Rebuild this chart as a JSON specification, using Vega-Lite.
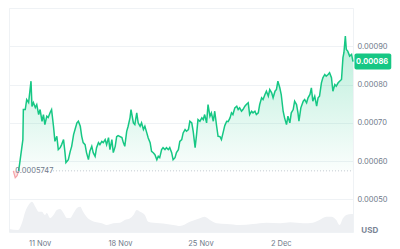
{
  "$schema": "https://vega.github.io/schema/vega-lite/v6.json",
  "width": 344,
  "height": 224,
  "autosize": {"type": "none"},
  "padding": {"left": 9, "top": 8, "right": 47, "bottom": 17},
  "background": "white",
  "config": {
    "view": {"stroke": "#eff2f5"},
    "font": "Inter",
    "text": {"font": "Inter"}
  },
  "datasets": {
    "start": [
      {"t": "2024-11-08T17:00", "p": 0.0005747},
      {"t": "2024-11-08T21:00", "p": 0.0005568},
      {"t": "2024-11-09T01:00", "p": 0.000562},
      {"t": "2024-11-09T04:00", "p": 0.0005747}
    ],
    "price": [
      {"t": "2024-11-09T04:00", "p": 0.0005747},
      {"t": "2024-11-09T06:00", "p": 0.0005908},
      {"t": "2024-11-09T13:00", "p": 0.0006563},
      {"t": "2024-11-09T14:00", "p": 0.0007348},
      {"t": "2024-11-09T18:00", "p": 0.0007348},
      {"t": "2024-11-09T21:00", "p": 0.000761},
      {"t": "2024-11-10T01:00", "p": 0.0007531},
      {"t": "2024-11-10T06:00", "p": 0.0008089},
      {"t": "2024-11-10T08:00", "p": 0.0007427},
      {"t": "2024-11-10T11:00", "p": 0.0007531},
      {"t": "2024-11-10T15:00", "p": 0.00074},
      {"t": "2024-11-10T18:00", "p": 0.0007479},
      {"t": "2024-11-10T22:00", "p": 0.0007217},
      {"t": "2024-11-11T01:00", "p": 0.0007348},
      {"t": "2024-11-11T05:00", "p": 0.0007042},
      {"t": "2024-11-11T08:00", "p": 0.0007217},
      {"t": "2024-11-11T11:00", "p": 0.0006955},
      {"t": "2024-11-11T15:00", "p": 0.0007173},
      {"t": "2024-11-11T18:00", "p": 0.0007139},
      {"t": "2024-11-11T22:00", "p": 0.000727},
      {"t": "2024-11-12T01:00", "p": 0.0007348},
      {"t": "2024-11-12T05:00", "p": 0.0006911},
      {"t": "2024-11-12T08:00", "p": 0.0006518},
      {"t": "2024-11-12T12:00", "p": 0.0006649},
      {"t": "2024-11-12T15:00", "p": 0.0006301},
      {"t": "2024-11-12T19:00", "p": 0.0006353},
      {"t": "2024-11-12T22:00", "p": 0.0006432},
      {"t": "2024-11-13T02:00", "p": 0.0006563},
      {"t": "2024-11-13T05:00", "p": 0.0006223},
      {"t": "2024-11-13T07:00", "p": 0.0005961},
      {"t": "2024-11-13T12:00", "p": 0.0006039},
      {"t": "2024-11-13T16:00", "p": 0.0006257},
      {"t": "2024-11-13T19:00", "p": 0.0006387},
      {"t": "2024-11-13T23:00", "p": 0.0006694},
      {"t": "2024-11-14T02:00", "p": 0.0006825},
      {"t": "2024-11-14T06:00", "p": 0.0007},
      {"t": "2024-11-14T09:00", "p": 0.0007042},
      {"t": "2024-11-14T13:00", "p": 0.0006911},
      {"t": "2024-11-14T16:00", "p": 0.0006649},
      {"t": "2024-11-14T19:00", "p": 0.0006484},
      {"t": "2024-11-14T23:00", "p": 0.0006432},
      {"t": "2024-11-15T02:00", "p": 0.0006223},
      {"t": "2024-11-15T06:00", "p": 0.0006039},
      {"t": "2024-11-15T09:00", "p": 0.0006257},
      {"t": "2024-11-15T13:00", "p": 0.0006387},
      {"t": "2024-11-15T16:00", "p": 0.0006223},
      {"t": "2024-11-15T20:00", "p": 0.0006126},
      {"t": "2024-11-15T23:00", "p": 0.0006353},
      {"t": "2024-11-16T03:00", "p": 0.0006484},
      {"t": "2024-11-16T06:00", "p": 0.0006432},
      {"t": "2024-11-16T10:00", "p": 0.0006518},
      {"t": "2024-11-16T13:00", "p": 0.0006484},
      {"t": "2024-11-16T17:00", "p": 0.0006563},
      {"t": "2024-11-16T20:00", "p": 0.0006432},
      {"t": "2024-11-17T00:00", "p": 0.0006615},
      {"t": "2024-11-17T03:00", "p": 0.0006301},
      {"t": "2024-11-17T07:00", "p": 0.0006563},
      {"t": "2024-11-17T10:00", "p": 0.0006223},
      {"t": "2024-11-17T14:00", "p": 0.0006387},
      {"t": "2024-11-17T17:00", "p": 0.0006641},
      {"t": "2024-11-17T20:00", "p": 0.0006668},
      {"t": "2024-11-18T04:00", "p": 0.0006615},
      {"t": "2024-11-18T07:00", "p": 0.0006484},
      {"t": "2024-11-18T10:00", "p": 0.0006387},
      {"t": "2024-11-18T14:00", "p": 0.000678},
      {"t": "2024-11-18T17:00", "p": 0.0006911},
      {"t": "2024-11-18T21:00", "p": 0.0007139},
      {"t": "2024-11-18T23:00", "p": 0.0007348},
      {"t": "2024-11-19T04:00", "p": 0.0007},
      {"t": "2024-11-19T07:00", "p": 0.0006955},
      {"t": "2024-11-19T11:00", "p": 0.0007262},
      {"t": "2024-11-19T14:00", "p": 0.0007},
      {"t": "2024-11-19T18:00", "p": 0.0006911},
      {"t": "2024-11-19T21:00", "p": 0.0007},
      {"t": "2024-11-20T01:00", "p": 0.0006825},
      {"t": "2024-11-20T04:00", "p": 0.0006911},
      {"t": "2024-11-20T08:00", "p": 0.0006738},
      {"t": "2024-11-20T11:00", "p": 0.0006607},
      {"t": "2024-11-20T15:00", "p": 0.0006484},
      {"t": "2024-11-20T18:00", "p": 0.0006257},
      {"t": "2024-11-20T22:00", "p": 0.0006215},
      {"t": "2024-11-21T01:00", "p": 0.000617},
      {"t": "2024-11-21T05:00", "p": 0.0006039},
      {"t": "2024-11-21T08:00", "p": 0.0006126},
      {"t": "2024-11-21T11:00", "p": 0.0006092},
      {"t": "2024-11-21T15:00", "p": 0.0006301},
      {"t": "2024-11-21T18:00", "p": 0.0006353},
      {"t": "2024-11-21T22:00", "p": 0.0006301},
      {"t": "2024-11-22T01:00", "p": 0.0006353},
      {"t": "2024-11-22T05:00", "p": 0.0006301},
      {"t": "2024-11-22T08:00", "p": 0.0006353},
      {"t": "2024-11-22T12:00", "p": 0.0006223},
      {"t": "2024-11-22T15:00", "p": 0.0006039},
      {"t": "2024-11-22T19:00", "p": 0.0006092},
      {"t": "2024-11-22T22:00", "p": 0.0006223},
      {"t": "2024-11-23T02:00", "p": 0.0006301},
      {"t": "2024-11-23T05:00", "p": 0.0006518},
      {"t": "2024-11-23T09:00", "p": 0.0006563},
      {"t": "2024-11-23T12:00", "p": 0.0006738},
      {"t": "2024-11-23T16:00", "p": 0.0006825},
      {"t": "2024-11-23T19:00", "p": 0.000678},
      {"t": "2024-11-23T23:00", "p": 0.0006825},
      {"t": "2024-11-24T02:00", "p": 0.0007042},
      {"t": "2024-11-24T06:00", "p": 0.0007},
      {"t": "2024-11-24T09:00", "p": 0.000678},
      {"t": "2024-11-24T13:00", "p": 0.0006353},
      {"t": "2024-11-24T16:00", "p": 0.0006694},
      {"t": "2024-11-24T19:00", "p": 0.0007086},
      {"t": "2024-11-24T23:00", "p": 0.0007042},
      {"t": "2024-11-25T03:00", "p": 0.0007131},
      {"t": "2024-11-25T06:00", "p": 0.0007086},
      {"t": "2024-11-25T09:00", "p": 0.0007217},
      {"t": "2024-11-25T13:00", "p": 0.0007},
      {"t": "2024-11-25T16:00", "p": 0.0007479},
      {"t": "2024-11-25T20:00", "p": 0.0007173},
      {"t": "2024-11-25T23:00", "p": 0.0007262},
      {"t": "2024-11-26T03:00", "p": 0.0007042},
      {"t": "2024-11-26T06:00", "p": 0.0007304},
      {"t": "2024-11-26T10:00", "p": 0.0006911},
      {"t": "2024-11-26T13:00", "p": 0.0006649},
      {"t": "2024-11-26T17:00", "p": 0.0006641},
      {"t": "2024-11-26T20:00", "p": 0.0006563},
      {"t": "2024-11-27T00:00", "p": 0.0006772},
      {"t": "2024-11-27T03:00", "p": 0.0006929},
      {"t": "2024-11-27T07:00", "p": 0.0007042},
      {"t": "2024-11-27T10:00", "p": 0.0007034},
      {"t": "2024-11-27T14:00", "p": 0.0007131},
      {"t": "2024-11-27T17:00", "p": 0.0007262},
      {"t": "2024-11-27T20:00", "p": 0.0007217},
      {"t": "2024-11-28T00:00", "p": 0.0007393},
      {"t": "2024-11-28T04:00", "p": 0.0007435},
      {"t": "2024-11-28T07:00", "p": 0.0007348},
      {"t": "2024-11-28T10:00", "p": 0.0007393},
      {"t": "2024-11-28T14:00", "p": 0.0007304},
      {"t": "2024-11-28T17:00", "p": 0.0007348},
      {"t": "2024-11-28T21:00", "p": 0.0007435},
      {"t": "2024-11-29T00:00", "p": 0.0007479},
      {"t": "2024-11-29T04:00", "p": 0.0007524},
      {"t": "2024-11-29T07:00", "p": 0.0007217},
      {"t": "2024-11-29T11:00", "p": 0.0007304},
      {"t": "2024-11-29T14:00", "p": 0.0007262},
      {"t": "2024-11-29T18:00", "p": 0.0007304},
      {"t": "2024-11-29T21:00", "p": 0.0007217},
      {"t": "2024-11-30T01:00", "p": 0.0007262},
      {"t": "2024-11-30T04:00", "p": 0.0007479},
      {"t": "2024-11-30T08:00", "p": 0.0007654},
      {"t": "2024-11-30T11:00", "p": 0.000761},
      {"t": "2024-11-30T15:00", "p": 0.0007741},
      {"t": "2024-11-30T18:00", "p": 0.0007827},
      {"t": "2024-11-30T22:00", "p": 0.0007696},
      {"t": "2024-12-01T01:00", "p": 0.0007872},
      {"t": "2024-12-01T05:00", "p": 0.0007785},
      {"t": "2024-12-01T08:00", "p": 0.0007654},
      {"t": "2024-12-01T12:00", "p": 0.0007827},
      {"t": "2024-12-01T15:00", "p": 0.0007872},
      {"t": "2024-12-01T18:00", "p": 0.0008089},
      {"t": "2024-12-01T22:00", "p": 0.0007916},
      {"t": "2024-12-02T01:00", "p": 0.0007741},
      {"t": "2024-12-02T05:00", "p": 0.0007304},
      {"t": "2024-12-02T08:00", "p": 0.0007131},
      {"t": "2024-12-02T12:00", "p": 0.0006955},
      {"t": "2024-12-02T15:00", "p": 0.0007173},
      {"t": "2024-12-02T19:00", "p": 0.0007},
      {"t": "2024-12-02T22:00", "p": 0.0007262},
      {"t": "2024-12-03T02:00", "p": 0.0007348},
      {"t": "2024-12-03T05:00", "p": 0.0007565},
      {"t": "2024-12-03T09:00", "p": 0.0007479},
      {"t": "2024-12-03T12:00", "p": 0.0007262},
      {"t": "2024-12-03T14:00", "p": 0.0007042},
      {"t": "2024-12-03T18:00", "p": 0.0007393},
      {"t": "2024-12-03T23:00", "p": 0.0007565},
      {"t": "2024-12-04T02:00", "p": 0.000761},
      {"t": "2024-12-04T06:00", "p": 0.0007524},
      {"t": "2024-12-04T09:00", "p": 0.0007654},
      {"t": "2024-12-04T13:00", "p": 0.0007741},
      {"t": "2024-12-04T16:00", "p": 0.0007916},
      {"t": "2024-12-04T19:00", "p": 0.0007565},
      {"t": "2024-12-04T23:00", "p": 0.0007696},
      {"t": "2024-12-05T03:00", "p": 0.0007435},
      {"t": "2024-12-05T06:00", "p": 0.0007654},
      {"t": "2024-12-05T09:00", "p": 0.0007696},
      {"t": "2024-12-05T13:00", "p": 0.0008047},
      {"t": "2024-12-05T16:00", "p": 0.0008178},
      {"t": "2024-12-05T20:00", "p": 0.0008264},
      {"t": "2024-12-05T23:00", "p": 0.000822},
      {"t": "2024-12-06T03:00", "p": 0.0008264},
      {"t": "2024-12-06T06:00", "p": 0.0008309},
      {"t": "2024-12-06T10:00", "p": 0.0008178},
      {"t": "2024-12-06T13:00", "p": 0.0007827},
      {"t": "2024-12-06T17:00", "p": 0.0008003},
      {"t": "2024-12-06T20:00", "p": 0.0007958},
      {"t": "2024-12-07T00:00", "p": 0.0008047},
      {"t": "2024-12-07T03:00", "p": 0.0008089},
      {"t": "2024-12-07T07:00", "p": 0.0008134},
      {"t": "2024-12-07T10:00", "p": 0.0008702},
      {"t": "2024-12-07T12:00", "p": 0.0008832},
      {"t": "2024-12-07T15:00", "p": 0.0009267},
      {"t": "2024-12-07T17:00", "p": 0.0008919},
      {"t": "2024-12-07T20:00", "p": 0.0008874},
      {"t": "2024-12-08T00:00", "p": 0.0008743},
      {"t": "2024-12-08T04:00", "p": 0.0008788},
      {"t": "2024-12-08T07:00", "p": 0.00086}
    ],
    "vol": [
      {"t": "2024-11-08T08:00", "v": 30},
      {"t": "2024-11-09T03:00", "v": 20},
      {"t": "2024-11-09T11:00", "v": 90},
      {"t": "2024-11-09T18:00", "v": 203},
      {"t": "2024-11-10T01:00", "v": 270},
      {"t": "2024-11-10T08:00", "v": 303},
      {"t": "2024-11-10T15:00", "v": 253},
      {"t": "2024-11-10T22:00", "v": 203},
      {"t": "2024-11-11T05:00", "v": 203},
      {"t": "2024-11-11T11:00", "v": 170},
      {"t": "2024-11-11T15:00", "v": 190},
      {"t": "2024-11-11T22:00", "v": 140},
      {"t": "2024-11-12T05:00", "v": 170},
      {"t": "2024-11-12T12:00", "v": 220},
      {"t": "2024-11-12T19:00", "v": 230},
      {"t": "2024-11-13T02:00", "v": 190},
      {"t": "2024-11-13T09:00", "v": 140},
      {"t": "2024-11-13T16:00", "v": 140},
      {"t": "2024-11-13T23:00", "v": 190},
      {"t": "2024-11-14T06:00", "v": 240},
      {"t": "2024-11-14T13:00", "v": 253},
      {"t": "2024-11-14T19:00", "v": 203},
      {"t": "2024-11-15T02:00", "v": 153},
      {"t": "2024-11-15T13:00", "v": 113},
      {"t": "2024-11-15T23:00", "v": 97},
      {"t": "2024-11-16T10:00", "v": 87},
      {"t": "2024-11-16T20:00", "v": 70},
      {"t": "2024-11-17T10:00", "v": 87},
      {"t": "2024-11-18T00:00", "v": 93},
      {"t": "2024-11-18T10:00", "v": 120},
      {"t": "2024-11-18T21:00", "v": 137},
      {"t": "2024-11-19T04:00", "v": 170},
      {"t": "2024-11-19T11:00", "v": 220},
      {"t": "2024-11-19T18:00", "v": 203},
      {"t": "2024-11-20T04:00", "v": 170},
      {"t": "2024-11-20T11:00", "v": 103},
      {"t": "2024-11-20T22:00", "v": 93},
      {"t": "2024-11-21T11:00", "v": 87},
      {"t": "2024-11-22T01:00", "v": 80},
      {"t": "2024-11-22T15:00", "v": 70},
      {"t": "2024-11-23T05:00", "v": 60},
      {"t": "2024-11-24T02:00", "v": 103},
      {"t": "2024-11-24T23:00", "v": 137},
      {"t": "2024-11-25T09:00", "v": 153},
      {"t": "2024-11-25T20:00", "v": 120},
      {"t": "2024-11-26T10:00", "v": 87},
      {"t": "2024-11-27T07:00", "v": 80},
      {"t": "2024-11-28T10:00", "v": 70},
      {"t": "2024-11-29T14:00", "v": 80},
      {"t": "2024-11-30T18:00", "v": 93},
      {"t": "2024-12-01T23:00", "v": 87},
      {"t": "2024-12-02T20:00", "v": 97},
      {"t": "2024-12-03T23:00", "v": 87},
      {"t": "2024-12-04T19:00", "v": 93},
      {"t": "2024-12-05T09:00", "v": 120},
      {"t": "2024-12-05T23:00", "v": 153},
      {"t": "2024-12-06T10:00", "v": 153},
      {"t": "2024-12-06T20:00", "v": 120},
      {"t": "2024-12-07T03:00", "v": 70},
      {"t": "2024-12-07T10:00", "v": 137},
      {"t": "2024-12-07T17:00", "v": 170},
      {"t": "2024-12-08T04:00", "v": 180},
      {"t": "2024-12-08T07:00", "v": 180}
    ]
  },
  "layer": [
    {
      "data": {"name": "vol"},
      "mark": {"type": "area", "color": "#eef0f3", "interpolate": "monotone"},
      "encoding": {
        "x": {
          "field": "t",
          "type": "temporal",
          "scale": {
            "domain": [
              {"year": 2024, "month": 11, "date": 8, "hours": 8},
              {"year": 2024, "month": 12, "date": 8, "hours": 7}
            ]
          },
          "axis": {
            "title": null,
            "format": "%-d %b",
            "values": [
              {"year": 2024, "month": 11, "date": 11},
              {"year": 2024, "month": 11, "date": 18},
              {"year": 2024, "month": 11, "date": 25},
              {"year": 2024, "month": 12, "date": 2}
            ],
            "grid": false,
            "ticks": false,
            "domain": false,
            "labelPadding": 7,
            "labelFontSize": 7.5,
            "labelColor": "#6f7a8a",
            "labelFont": "Inter"
          }
        },
        "y": {"field": "v", "type": "quantitative", "scale": {"domain": [0, 2240]}, "axis": null}
      }
    },
    {
      "layer": [
        {
          "data": {"name": "price"},
          "mark": {
            "type": "area",
            "color": {
              "gradient": "linear",
              "x1": 0, "y1": 0, "x2": 0, "y2": 1,
              "stops": [
                {"offset": 0, "color": "rgba(22,199,132,0.30)"},
                {"offset": 1, "color": "rgba(22,199,132,0.02)"}
              ]
            }
          },
          "encoding": {
            "x": {"field": "t", "type": "temporal"},
            "y": {
              "field": "p",
              "type": "quantitative",
              "scale": {"domain": [0.000415, 0.001], "zero": false, "nice": false},
              "axis": {
                "title": null,
                "orient": "right",
                "values": [0.0005, 0.0006, 0.0007, 0.0008, 0.0009, 0.001],
                "labelExpr": "datum.value > 0.00095 ? '' : format(datum.value, '.5f')",
                "grid": true,
                "gridColor": "#eff2f5",
                "ticks": false,
                "domain": false,
                "labelPadding": 4,
                "labelFontSize": 7.5,
                "labelColor": "#6f7a8a",
                "labelFont": "Inter"
              }
            },
            "y2": {"datum": 0.0005747}
          }
        },
        {
          "data": {"name": "start"},
          "mark": {"type": "area", "color": "rgba(234,57,67,0.15)"},
          "encoding": {
            "x": {"field": "t", "type": "temporal"},
            "y": {"field": "p", "type": "quantitative"},
            "y2": {"datum": 0.0005747}
          }
        },
        {
          "data": {"name": "start"},
          "mark": {"type": "line", "color": "#f5a3a8", "strokeWidth": 1.2},
          "encoding": {
            "x": {"field": "t", "type": "temporal"},
            "y": {"field": "p", "type": "quantitative"}
          }
        },
        {
          "data": {"values": [{}]},
          "mark": {"type": "rule", "color": "#c3c9d1", "strokeDash": [1, 2], "strokeWidth": 1},
          "encoding": {
            "x": {"datum": {"year": 2024, "month": 11, "date": 12, "hours": 4}},
            "x2": {"datum": {"year": 2024, "month": 12, "date": 8, "hours": 7}},
            "y": {"datum": 0.0005747}
          }
        },
        {
          "data": {"name": "price"},
          "mark": {"type": "line", "color": "#16c784", "strokeWidth": 1.5},
          "encoding": {
            "x": {"field": "t", "type": "temporal"},
            "y": {"field": "p", "type": "quantitative"}
          }
        },
        {
          "data": {"values": [{"label": "0.0005747"}]},
          "mark": {"type": "text", "align": "left", "baseline": "middle", "fontSize": 7.5, "color": "#6f7a8a", "font": "Inter"},
          "encoding": {
            "x": {"datum": {"year": 2024, "month": 11, "date": 8, "hours": 21}},
            "y": {"datum": 0.0005747},
            "text": {"field": "label"}
          }
        },
        {
          "data": {"values": [{}]},
          "mark": {"type": "rect", "color": "#16c784", "cornerRadius": 2},
          "encoding": {
            "x": {"datum": {"year": 2024, "month": 12, "date": 8, "hours": 10}},
            "x2": {"datum": {"year": 2024, "month": 12, "date": 11, "hours": 15}},
            "y": {"datum": 0.0008814},
            "y2": {"datum": 0.0008395}
          }
        },
        {
          "data": {"values": [{"label": "0.00086"}]},
          "mark": {"type": "text", "align": "center", "baseline": "middle", "fontSize": 7.5, "fontWeight": "bold", "color": "white", "font": "Inter"},
          "encoding": {
            "x": {"datum": {"year": 2024, "month": 12, "date": 9, "hours": 23}},
            "y": {"datum": 0.00086},
            "text": {"field": "label"}
          }
        },
        {
          "data": {"values": [{"label": "USD"}]},
          "mark": {"type": "text", "align": "center", "baseline": "middle", "fontSize": 8, "fontWeight": "bold", "color": "#7a8494", "font": "Inter"},
          "encoding": {
            "x": {"datum": {"year": 2024, "month": 12, "date": 9, "hours": 18}},
            "y": {"datum": 0.0004167},
            "text": {"field": "label"}
          }
        }
      ]
    }
  ],
  "resolve": {"scale": {"y": "independent"}}
}
